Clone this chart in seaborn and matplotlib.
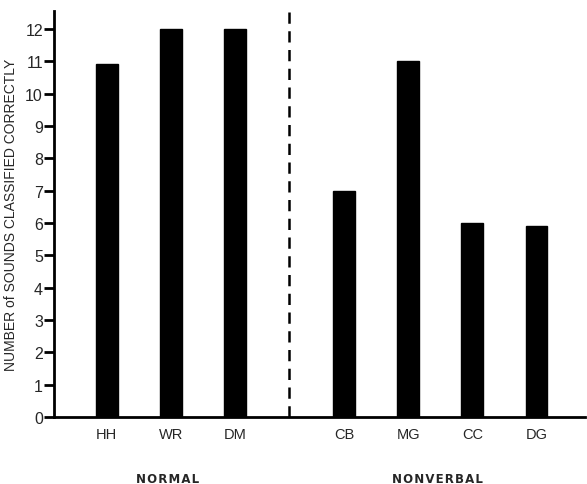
import matplotlib
matplotlib.use("Agg")
import matplotlib.pyplot as plt
import seaborn as sns
import pandas as pd

subjects = ["HH", "WR", "DM", "CB", "MG", "CC", "DG"]
groups = ["NORMAL", "NORMAL", "NORMAL", "NONVERBAL", "NONVERBAL", "NONVERBAL", "NONVERBAL"]
n_correct = [10.9, 12, 12, 7, 11, 6, 5.9]

group_names = ["NORMAL", "NONVERBAL"]
gap = 0.7  # extra space between the two groups

# positions: one unit per subject, plus a gap between groups
pos = [i + gap * group_names.index(g) for i, g in enumerate(groups)]
df = pd.DataFrame({"pos": pos, "subject": subjects, "group": groups, "n": n_correct})

sns.set_style("white")
plt.rcParams["font.family"] = ["Liberation Sans", "DejaVu Sans"]

fig = plt.figure(figsize=(5.87, 4.85), dpi=100)
ax = fig.add_axes([0.092, 0.138, 0.905, 0.837])

sns.barplot(data=df, x="pos", y="n", native_scale=True, width=0.34,
            color="black", saturation=1, edgecolor="black", ax=ax)

ax.set_xlim(-0.82, pos[-1] + 0.76)
ax.set_ylim(0, 12.55)
ax.set_yticks(range(0, 13))
ax.set_xticks(pos)
ax.set_xticklabels(subjects, fontsize=10.5)
ax.tick_params(axis="x", bottom=False, length=0, pad=7)
ax.tick_params(axis="y", left=True, length=7, width=2, direction="out",
               labelsize=11.5, pad=1, color="black")

sns.despine(ax=ax)
for s in ["left", "bottom"]:
    ax.spines[s].set_linewidth(2)
    ax.spines[s].set_color("black")

# dashed divider between the groups
mid = (pos[2] + pos[3]) / 2
ax.axvline(mid, color="black", linestyle=(0, (4.5, 3)), linewidth=1.8)

ax.set_xlabel("")
ax.set_ylabel("NUMBER of SOUNDS CLASSIFIED CORRECTLY", fontsize=10, labelpad=5)

# group labels under the subject labels (letter-spaced, bold)
for g in group_names:
    gp = [p for p, gg in zip(pos, groups) if gg == g]
    ax.text(sum(gp) / len(gp) - 0.05, -1.9, "\u200a".join(g),
            ha="center", va="center", fontsize=8.5, fontweight="bold",
            family=["DejaVu Sans"])

fig.savefig("out.png", dpi=100)
